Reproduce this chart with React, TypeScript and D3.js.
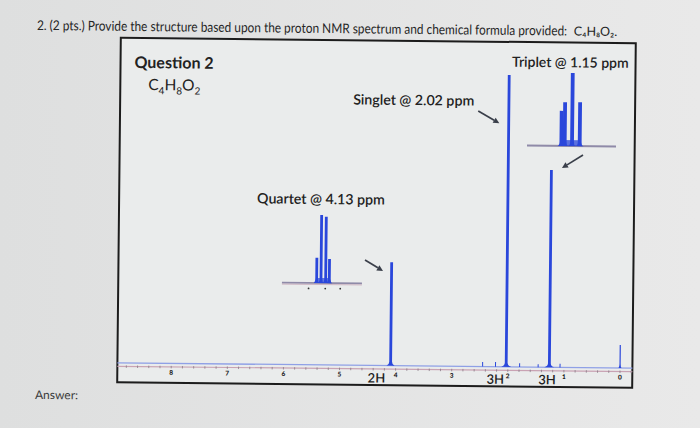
import React, { useLayoutEffect, useRef, useState } from "react";
import * as d3 from "d3";

// ---- data ----
const spectrumPpm = [4.09, 2.03, 1.26, 0.0];
const spectrumHeight = [35.4, 100, 67.6, 7.9];
const spectrumFoot = [4, 5, 5, 1.5];
const impurityPpm = [2.45, 2.22, 1.79, 1.46, 1.07];
const impurityHeight = [1.6, 1.6, 1.3, 1.0, 1.3];
const axisTicks = [8, 7, 6, 5, 4, 3, 2, 1, 0];
const integrationLabels = ["2H", "3H", "3H"];
const integrationPpm = [4.34, 2.22, 1.3];

const quartetPpm = [4.162, 4.136, 4.108, 4.086];
const quartetHeight = [1.0, 2.7, 2.63, 0.96];
const quartetDots = [4.21, 4.11, 4.02];
const tripletPpm = [1.181, 1.171, 1.149, 1.126];
const tripletHeight = [0.96, 1.2, 2.0, 1.2];

const TITLE = "2. (2 pts.) Provide the structure based upon the proton NMR spectrum and chemical formula provided:";
const FONT = "Lato, 'Open Sans', sans-serif";
const BLUE = "#2a47db";

function peakPath(x: number, base: number, top: number, foot: number, half: number) {
  const p = d3.path();
  p.moveTo(x - foot, base);
  p.quadraticCurveTo(x - half, base - 1, x - half, base - 4);
  p.lineTo(x - half, top);
  p.lineTo(x + half, top);
  p.lineTo(x + half, base - 4);
  p.quadraticCurveTo(x + half, base - 1, x + foot, base);
  p.closePath();
  return p.toString();
}

function Arrow({ x1, y1, x2, y2 }: { x1: number; y1: number; x2: number; y2: number }) {
  const a = Math.atan2(y2 - y1, x2 - x1);
  const L = 6, W = 3;
  const bx = x2 - L * Math.cos(a), by = y2 - L * Math.sin(a);
  const pts = [
    [x2, y2],
    [bx + W * Math.sin(a), by - W * Math.cos(a)],
    [bx - W * Math.sin(a), by + W * Math.cos(a)],
  ];
  return (
    <g>
      <line x1={x1} y1={y1} x2={bx} y2={by} stroke="#3a3f4a" strokeWidth={1.7} />
      <polygon points={pts.map((q) => q.join(",")).join(" ")} fill="#3a3f4a" />
    </g>
  );
}

export default function App() {
  const titleRef = useRef<SVGTextElement>(null);
  const [titleScale, setTitleScale] = useState(0.83);
  useLayoutEffect(() => {
    if (titleRef.current) {
      const w = titleRef.current.getComputedTextLength();
      if (w > 0) setTitleScale(530 / w);
    }
  }, []);

  const box = { left: 119, right: 634, top: 40.5, bottom: 385 };
  const x = d3.scaleLinear().domain([8.96, -0.22]).range([box.left, box.right]);
  const base = 365.5;
  const y = d3.scaleLinear().domain([0, 100]).range([base, 73.6]);

  const qx = d3.scaleLinear().domain([4.37, 3.89]).range([282.7, 362.7]);
  const qBase = 283.6;
  const qy = d3.scaleLinear().domain([0, 2.7]).range([qBase, 215.6]);

  const tx = d3.scaleLinear().domain([1.284, 1.017]).range([526.3, 615.3]);
  const tBase = 144;
  const ty = d3.scaleLinear().domain([0, 2]).range([tBase, 71]);

  const minor = d3.range(-0.2, 8.95, 0.2);

  return (
    <svg
      width={700}
      height={428}
      style={{ position: "absolute", left: 0, top: 0, display: "block" }}
      fontFamily={FONT}
    >
      <defs>
        <linearGradient id="bg" x1="0" y1="0" x2="1" y2="0">
          <stop offset="0" stopColor="#dedfdf" />
          <stop offset="1" stopColor="#e9e9e9" />
        </linearGradient>
      </defs>
      <rect x={0} y={0} width={700} height={428} fill="url(#bg)" />
      <g transform="rotate(0.6 377 212)">
        {/* title */}
        <g transform={`translate(35,33.5) scale(${titleScale},1)`}>
          <text ref={titleRef} x={0} y={0} fontSize={13.5} fill="#262626">
            {TITLE}
          </text>
        </g>
        <text x={572} y={33.5} fontSize={12.5} fill="#262626">C₄H₈O₂.</text>

        {/* box */}
        <rect
          x={box.left}
          y={box.top}
          width={box.right - box.left}
          height={box.bottom - box.top}
          fill="#eaecec"
          stroke="#1c1c1c"
          strokeWidth={2}
        />

        {/* texts inside */}
        <text x={133} y={70.5} fontSize={16} fontWeight={700} fill="#222">Question 2</text>
        <text x={147} y={92.5} fontSize={15.5} fill="#222">
          C<tspan fontSize={10} dy={4}>4</tspan>
          <tspan dy={-4}>H</tspan>
          <tspan fontSize={10} dy={4}>8</tspan>
          <tspan dy={-4}>O</tspan>
          <tspan fontSize={10} dy={4}>2</tspan>
        </text>
        <text x={352} y={104.7} fontSize={14.2} fontWeight={600} fill="#222">Singlet @ 2.02 ppm</text>
        <text x={510.5} y={65.3} fontSize={14} fontWeight={600} fill="#222">Triplet @ 1.15 ppm</text>
        <text x={257} y={204.6} fontSize={14.2} fontWeight={600} fill="#222">Quartet @ 4.13 ppm</text>

        {/* axis */}
        <line x1={box.left} x2={box.right} y1={369} y2={369} stroke="#c9a3b4" strokeWidth={1.2} />
        {minor.map((m, i) => (
          <line key={i} x1={x(m)} x2={x(m)} y1={368} y2={370.5} stroke="#8b7d88" strokeWidth={0.8} />
        ))}
        {axisTicks.map((t) => (
          <text key={t} x={x(t)} y={377} fontSize={6.5} fontWeight={900} textAnchor="middle" fill="#1a1a1a">
            {t}
          </text>
        ))}
        <line x1={box.left} x2={box.right} y1={base} y2={base} stroke="#8fa0e6" strokeWidth={1.3} />

        {/* impurity peaks */}
        {impurityPpm.map((p, i) => (
          <line key={i} x1={x(p)} x2={x(p)} y1={base} y2={y(impurityHeight[i])} stroke={BLUE} strokeWidth={1} />
        ))}
        {/* main peaks */}
        {spectrumPpm.map((p, i) => (
          <path
            key={i}
            d={peakPath(x(p), base, y(spectrumHeight[i]), spectrumFoot[i], i === 3 ? 0.6 : 1.4)}
            fill={BLUE}
          />
        ))}

        {/* integrations */}
        {integrationLabels.map((l, i) => (
          <text key={i} x={x(integrationPpm[i])} y={382.5} fontSize={13} fontWeight={600} textAnchor="middle" fill="#1f1f1f">
            {l}
          </text>
        ))}

        {/* quartet inset */}
        <line x1={qx.range()[0]} x2={qx.range()[1]} y1={qBase} y2={qBase} stroke="#8f8aa8" strokeWidth={1.8} />
        <line x1={qx.range()[0]} x2={qx.range()[1]} y1={qBase + 1.5} y2={qBase + 1.5} stroke="#c7a8b8" strokeWidth={0.8} />
        <path d={peakPath(qx(4.125), qBase, qBase - 5, 9, 7)} fill={BLUE} opacity={0.7} />
        {quartetPpm.map((p, i) => (
          <path key={i} d={peakPath(qx(p), qBase, qy(quartetHeight[i]), 2.5, 1.4)} fill={BLUE} />
        ))}
        {quartetDots.map((p, i) => (
          <circle key={i} cx={qx(p)} cy={qBase + 5.5} r={0.9} fill="#333" />
        ))}

        {/* triplet inset */}
        <line x1={tx.range()[0]} x2={tx.range()[1]} y1={tBase} y2={tBase} stroke="#8f8aa8" strokeWidth={2} />
        <path d={peakPath(tx(1.153), tBase, tBase - 6, 13, 10)} fill={BLUE} opacity={0.75} />
        {tripletPpm.map((p, i) => (
          <path key={i} d={peakPath(tx(p), tBase, ty(tripletHeight[i]), 3, 1.9)} fill={BLUE} />
        ))}

        {/* arrows */}
        <Arrow x1={477.2} y1={110} x2={498.4} y2={122} />
        <Arrow x1={365.5} y1={260.1} x2={383.6} y2={270.9} />
        <Arrow x1={582.4} y1={152.8} x2={561.5} y2={166.1} />

        <text x={37} y={402.5} fontSize={12} fill="#3a3a3a">Answer:</text>
      </g>
    </svg>
  );
}
